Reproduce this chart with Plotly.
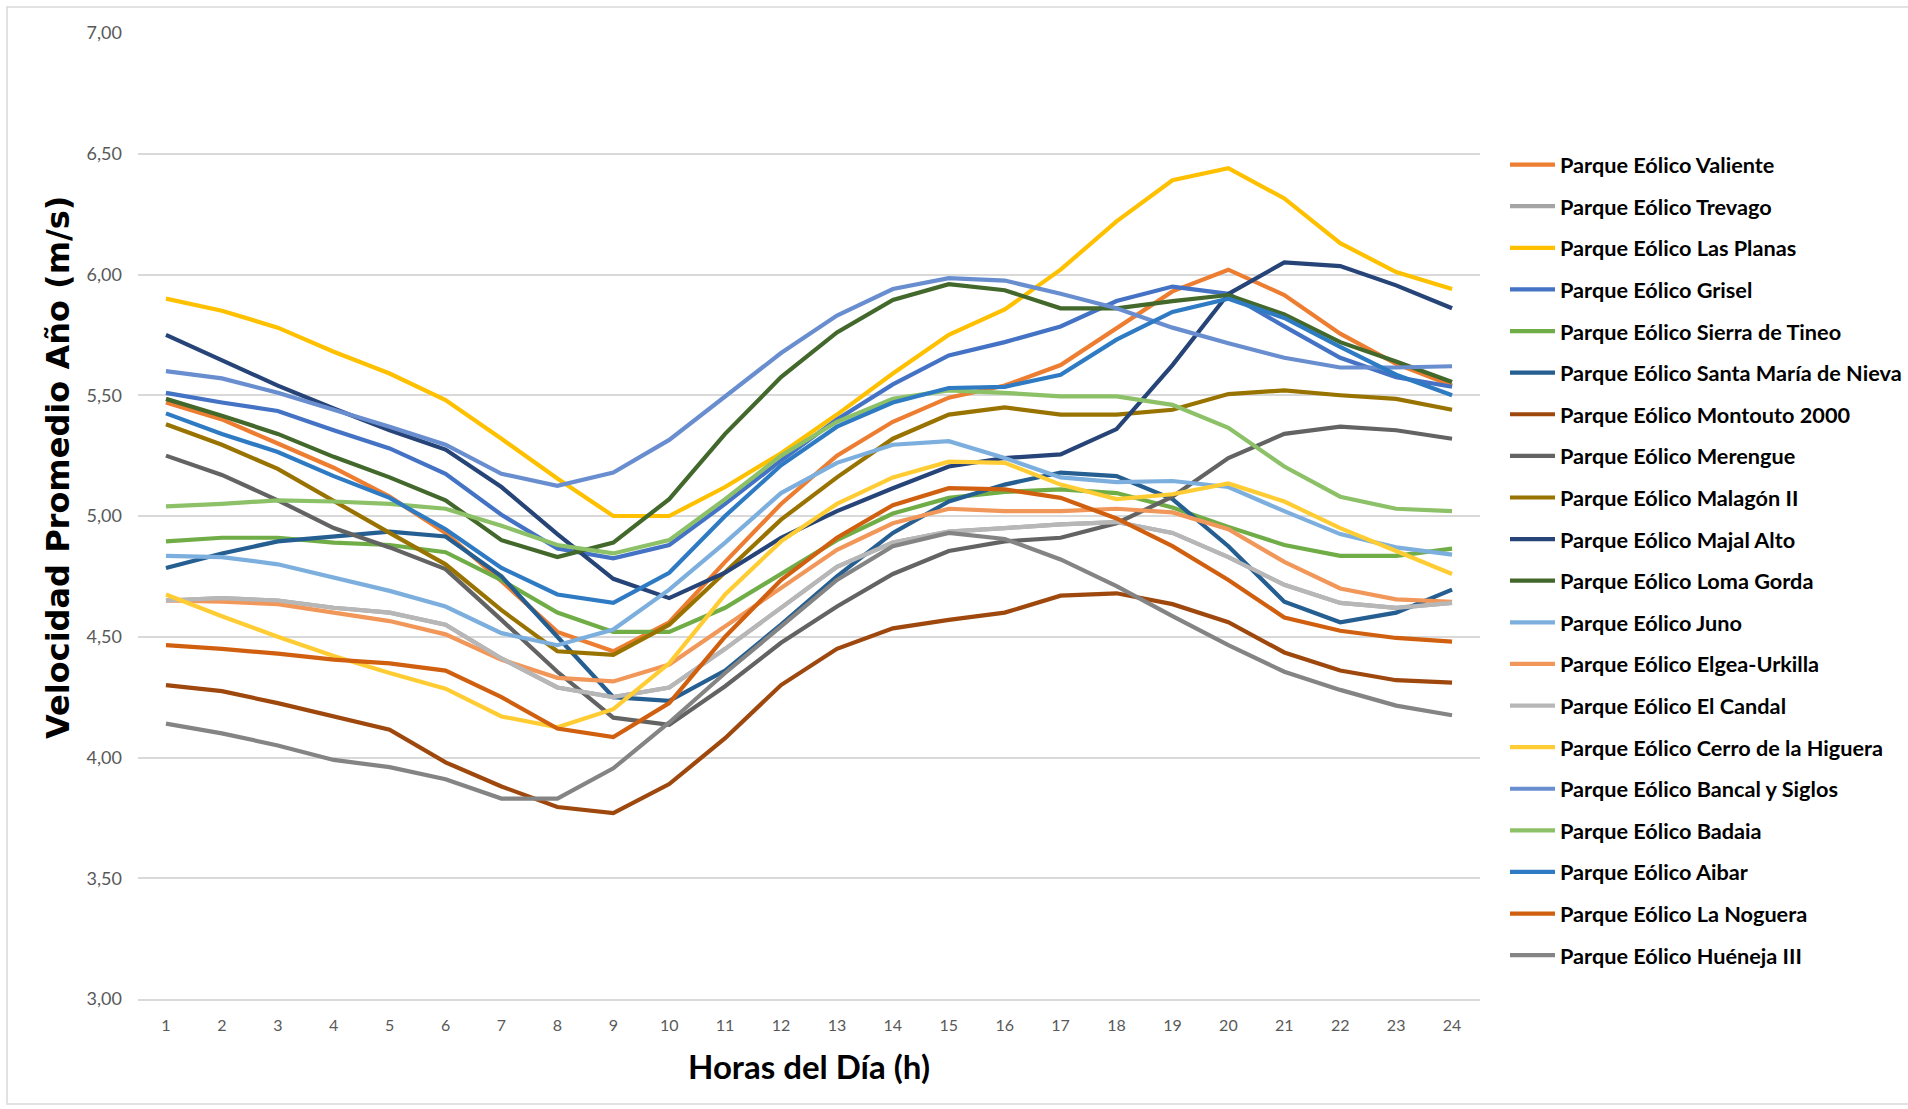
import plotly.graph_objects as go

hours = list(range(1, 25))
y_ticks = [3.0, 3.5, 4.0, 4.5, 5.0, 5.5, 6.0, 6.5, 7.0]

names = [
    "Parque Eólico Valiente", "Parque Eólico Trevago", "Parque Eólico Las Planas",
    "Parque Eólico Grisel", "Parque Eólico Sierra de Tineo", "Parque Eólico Santa María de Nieva",
    "Parque Eólico Montouto 2000", "Parque Eólico Merengue", "Parque Eólico Malagón II",
    "Parque Eólico Majal Alto", "Parque Eólico Loma Gorda", "Parque Eólico Juno",
    "Parque Eólico Elgea-Urkilla", "Parque Eólico El Candal", "Parque Eólico Cerro de la Higuera",
    "Parque Eólico Bancal y Siglos", "Parque Eólico Badaia", "Parque Eólico Aibar",
    "Parque Eólico La Noguera", "Parque Eólico Huéneja III",
]

valiente = [5.47, 5.40, 5.30, 5.20, 5.08, 4.93, 4.73, 4.52, 4.44, 4.56, 4.81, 5.05, 5.25, 5.39, 5.49, 5.54, 5.625, 5.78, 5.93, 6.02, 5.915, 5.755, 5.63, 5.54]
trevago = [4.65, 4.66, 4.65, 4.62, 4.60, 4.55, 4.41, 4.29, 4.25, 4.29, 4.45, 4.62, 4.79, 4.89, 4.935, 4.95, 4.965, 4.975, 4.93, 4.83, 4.715, 4.64, 4.62, 4.64]
las_planas = [5.90, 5.85, 5.78, 5.68, 5.59, 5.48, 5.32, 5.155, 5.00, 5.00, 5.12, 5.26, 5.42, 5.59, 5.75, 5.855, 6.02, 6.22, 6.39, 6.44, 6.315, 6.13, 6.01, 5.94]
grisel = [5.51, 5.47, 5.435, 5.355, 5.28, 5.175, 5.005, 4.865, 4.825, 4.88, 5.05, 5.23, 5.40, 5.545, 5.665, 5.72, 5.785, 5.89, 5.95, 5.92, 5.785, 5.655, 5.575, 5.535]
sierra_tineo = [4.895, 4.91, 4.91, 4.89, 4.88, 4.85, 4.735, 4.60, 4.52, 4.52, 4.62, 4.76, 4.90, 5.01, 5.075, 5.10, 5.11, 5.095, 5.035, 4.955, 4.88, 4.835, 4.835, 4.865]
santa_maria = [4.785, 4.845, 4.895, 4.915, 4.935, 4.915, 4.75, 4.50, 4.25, 4.235, 4.36, 4.55, 4.75, 4.93, 5.06, 5.13, 5.18, 5.165, 5.07, 4.875, 4.645, 4.56, 4.60, 4.695]
montouto = [4.30, 4.275, 4.225, 4.17, 4.115, 3.98, 3.88, 3.795, 3.77, 3.89, 4.08, 4.30, 4.45, 4.535, 4.57, 4.60, 4.67, 4.68, 4.635, 4.56, 4.435, 4.36, 4.32, 4.31]
merengue = [5.25, 5.17, 5.065, 4.95, 4.87, 4.78, 4.57, 4.355, 4.165, 4.135, 4.295, 4.475, 4.625, 4.76, 4.855, 4.895, 4.91, 4.97, 5.08, 5.24, 5.34, 5.37, 5.355, 5.32]
malagon = [5.38, 5.295, 5.195, 5.06, 4.93, 4.80, 4.61, 4.44, 4.425, 4.55, 4.765, 4.985, 5.16, 5.32, 5.42, 5.45, 5.42, 5.42, 5.44, 5.505, 5.52, 5.50, 5.485, 5.44]
majal_alto = [5.75, 5.645, 5.54, 5.445, 5.355, 5.275, 5.12, 4.925, 4.74, 4.66, 4.765, 4.91, 5.02, 5.115, 5.205, 5.24, 5.255, 5.36, 5.625, 5.92, 6.05, 6.035, 5.955, 5.86]
loma_gorda = [5.485, 5.415, 5.34, 5.245, 5.16, 5.065, 4.90, 4.83, 4.89, 5.07, 5.34, 5.575, 5.76, 5.895, 5.96, 5.935, 5.86, 5.86, 5.89, 5.915, 5.835, 5.72, 5.64, 5.555]
juno = [4.835, 4.83, 4.80, 4.745, 4.69, 4.625, 4.515, 4.465, 4.53, 4.695, 4.89, 5.095, 5.22, 5.295, 5.31, 5.24, 5.16, 5.14, 5.145, 5.12, 5.02, 4.925, 4.87, 4.84]
elgea = [4.65, 4.645, 4.635, 4.60, 4.565, 4.51, 4.405, 4.33, 4.315, 4.385, 4.545, 4.70, 4.86, 4.97, 5.03, 5.02, 5.02, 5.03, 5.015, 4.945, 4.81, 4.70, 4.655, 4.645]
el_candal = [4.65, 4.66, 4.65, 4.62, 4.60, 4.55, 4.41, 4.29, 4.25, 4.29, 4.45, 4.62, 4.79, 4.89, 4.935, 4.95, 4.965, 4.975, 4.93, 4.83, 4.715, 4.64, 4.62, 4.64]
cerro_higuera = [4.675, 4.585, 4.50, 4.42, 4.35, 4.285, 4.17, 4.125, 4.20, 4.39, 4.675, 4.895, 5.05, 5.16, 5.225, 5.22, 5.13, 5.07, 5.09, 5.135, 5.06, 4.95, 4.855, 4.76]
bancal = [5.60, 5.57, 5.51, 5.44, 5.37, 5.295, 5.175, 5.125, 5.18, 5.315, 5.495, 5.675, 5.83, 5.94, 5.985, 5.975, 5.92, 5.86, 5.78, 5.715, 5.655, 5.615, 5.615, 5.62]
badaia = [5.04, 5.05, 5.065, 5.06, 5.05, 5.03, 4.96, 4.88, 4.845, 4.90, 5.07, 5.25, 5.39, 5.485, 5.52, 5.51, 5.495, 5.495, 5.46, 5.365, 5.205, 5.08, 5.03, 5.02]
aibar = [5.425, 5.34, 5.265, 5.165, 5.075, 4.945, 4.785, 4.675, 4.64, 4.765, 5.00, 5.21, 5.37, 5.47, 5.53, 5.535, 5.585, 5.73, 5.845, 5.90, 5.82, 5.70, 5.585, 5.50]
la_noguera = [4.465, 4.45, 4.43, 4.405, 4.39, 4.36, 4.25, 4.12, 4.085, 4.225, 4.50, 4.735, 4.91, 5.045, 5.115, 5.11, 5.075, 4.99, 4.875, 4.735, 4.58, 4.525, 4.495, 4.48]
hueneja = [4.14, 4.10, 4.05, 3.99, 3.96, 3.91, 3.83, 3.83, 3.955, 4.145, 4.35, 4.54, 4.735, 4.875, 4.93, 4.905, 4.82, 4.71, 4.585, 4.465, 4.355, 4.28, 4.215, 4.175]

series = [valiente, trevago, las_planas, grisel, sierra_tineo, santa_maria, montouto, merengue,
          malagon, majal_alto, loma_gorda, juno, elgea, el_candal, cerro_higuera, bancal, badaia,
          aibar, la_noguera, hueneja]

colors = ["#ED7D31", "#A5A5A5", "#FFC000", "#4472C4", "#70AD47", "#255E91", "#9E480E", "#636363",
          "#997300", "#264478", "#43682B", "#7CAFDD", "#F1975A", "#B7B7B7", "#FFCD33", "#698ED0",
          "#8CC168", "#2E7BC4", "#D0600F", "#848484"]

fig = go.Figure()
for i, (name, vals, col) in enumerate(zip(names, series, colors)):
    fig.add_trace(go.Scatter(
        x=hours, y=vals, name=name, mode="lines",
        line=dict(color=col, width=4.2),
        legendgroup=f"g{i}",
    ))

L, R, T, B = 138, 428, 33, 110
W, H = 1908, 1109
pw, ph = W - L - R, H - T - B

def px_x(x):
    return (x - L) / pw

def px_y(y):
    return (H - B - y) / ph

fig.update_layout(
    width=W, height=H,
    margin=dict(l=L, r=R, t=T, b=B, autoexpand=False),
    paper_bgcolor="white", plot_bgcolor="white",
    separators=",.",
    showlegend=True,
    legend=dict(
        x=px_x(1505), y=px_y(144), xanchor="left", yanchor="top",
        font=dict(family="Lato", size=21.7, color="#000000", weight="bold"),
        tracegroupgap=10.4, itemwidth=45,
        bgcolor="rgba(0,0,0,0)",
    ),
    xaxis=dict(
        range=[0.5, 24.5], tickmode="array", tickvals=hours, ticktext=[str(h) for h in hours],
        showgrid=False, zeroline=False, showline=True, linecolor="#D9D9D9", linewidth=1.5,
        ticks="", tickfont=dict(family="Lato", size=16, color="#595959"),
        ticklabelstandoff=11,
    ),
    yaxis=dict(
        range=[3, 7], tickmode="array", tickvals=y_ticks, tickformat=".2f",
        showgrid=True, gridcolor="#D9D9D9", gridwidth=1.5, zeroline=False, showline=False,
        ticks="", tickfont=dict(family="Lato", size=18, color="#595959"),
        ticklabelstandoff=15,
    ),
    annotations=[
        dict(text="<b>Velocidad Promedio Año (m/s)</b>", textangle=-90, xref="paper", yref="paper",
             x=px_x(58), y=px_y(468), xanchor="center", yanchor="middle", showarrow=False,
             font=dict(family="DejaVu Sans", size=32, color="#000000")),
        dict(text="<b>Horas del Día (h)</b>", xref="paper", yref="paper",
             x=px_x(809), y=px_y(1066), xanchor="center", yanchor="middle", showarrow=False,
             font=dict(family="Lato", size=33, color="#000000")),
    ],
    shapes=[
        dict(type="rect", xref="paper", yref="paper", x0=px_x(7), x1=px_x(1930),
             y0=px_y(1104), y1=px_y(7), line=dict(color="#D9D9D9", width=1.5), fillcolor="rgba(0,0,0,0)",
             layer="below"),
    ],
)

fig.write_html("out.html")
